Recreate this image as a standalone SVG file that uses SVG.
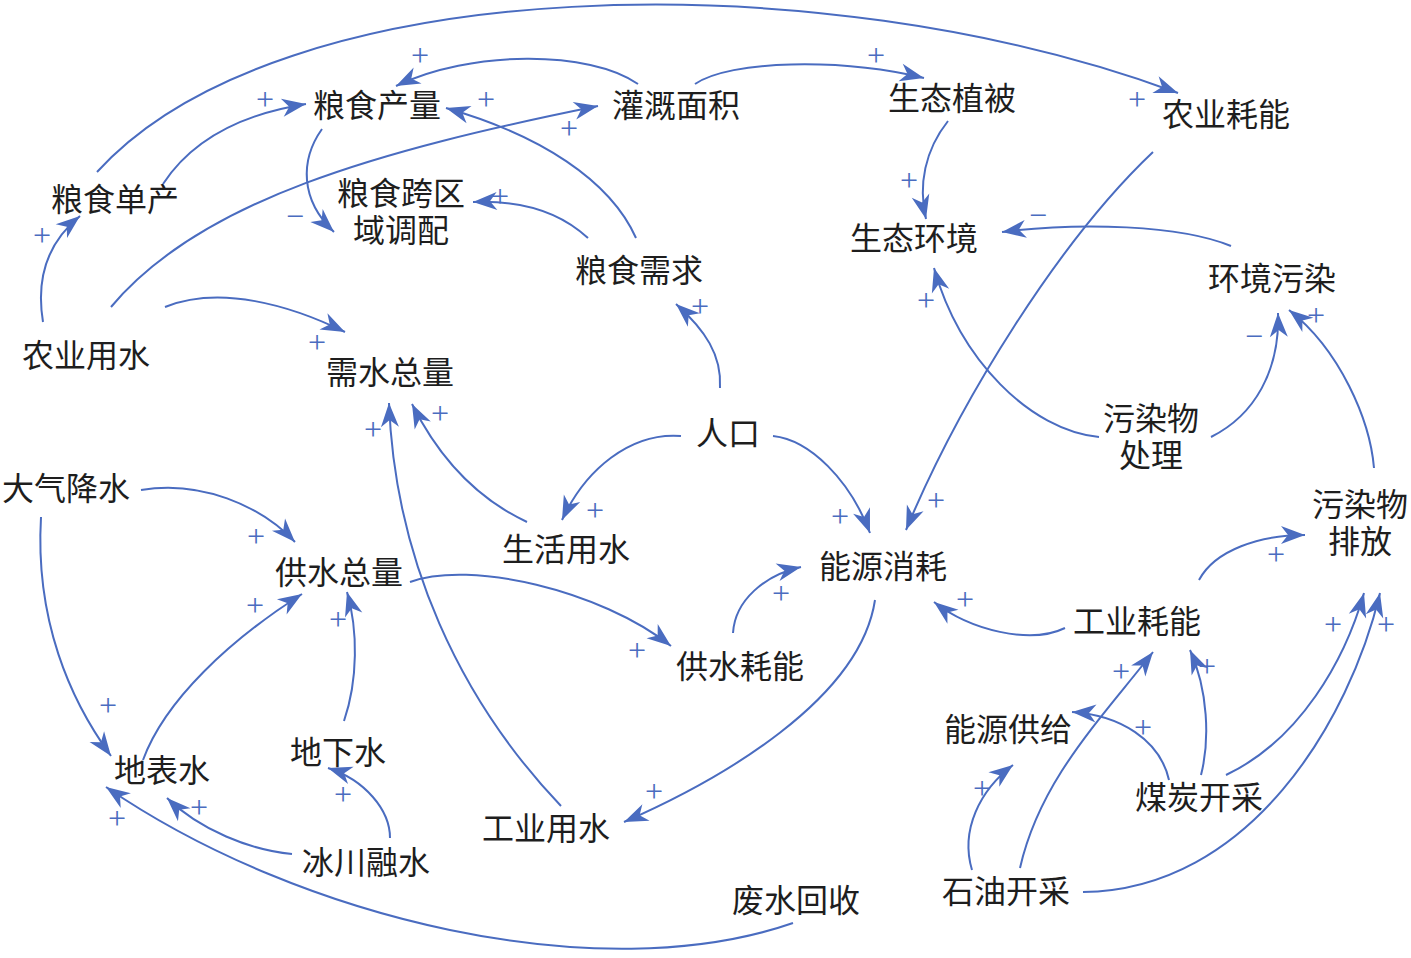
<svg xmlns="http://www.w3.org/2000/svg" width="1411" height="958" viewBox="0 0 1411 958">
<defs>
<marker id="ah" markerUnits="userSpaceOnUse" viewBox="-25 -10 27 20" refX="0" refY="0" markerWidth="27" markerHeight="20" orient="auto">
<path d="M0,0 L-24,-9 L-17,0 L-24,9 Z" fill="#4a6cc0"/>
</marker>
<style>
.n{font-family:"Liberation Serif","Noto Sans CJK SC",serif;font-size:32px;fill:#1e1e1e;text-anchor:middle}
.s{font-family:"Liberation Serif",serif;font-size:32px;fill:#4a6cc0;text-anchor:middle}
.e path{fill:none;stroke:#4a6cc0;stroke-width:2;marker-end:url(#ah)}
</style>
</defs>
<rect width="1411" height="958" fill="#ffffff"/>
<g id="connectors" class="e">
<path d="M97,172 C280,-30 820,-40 1178,93"/>
<path d="M163,184 Q205,120 306,104"/>
<path d="M43,322 Q32,255 80,216"/>
<path d="M111,307 C200,200 380,150 598,106"/>
<path d="M165,307 C220,285 290,305 345,332"/>
<path d="M638,84 C590,50 470,50 396,86"/>
<path d="M695,84 C730,60 840,58 924,78"/>
<path d="M636,238 C610,180 540,135 446,108"/>
<path d="M322,129 C300,160 300,200 334,232"/>
<path d="M588,238 C560,212 520,200 473,202"/>
<path d="M720,388 C722,355 705,330 676,304"/>
<path d="M948,121 C925,150 918,185 926,219"/>
<path d="M1231,246 C1180,225 1080,222 1002,232"/>
<path d="M1153,152 C1060,240 960,400 906,530"/>
<path d="M1099,437 C1030,430 960,360 934,268"/>
<path d="M1211,437 C1255,415 1280,370 1278,313"/>
<path d="M1374,468 C1370,420 1340,350 1289,310"/>
<path d="M681,436 C630,432 585,470 562,520"/>
<path d="M773,436 C810,440 850,480 870,533"/>
<path d="M527,522 C480,500 440,460 412,404"/>
<path d="M561,806 C460,700 395,560 389,403"/>
<path d="M141,490 C200,480 260,505 295,542"/>
<path d="M41,517 C35,620 70,700 111,756"/>
<path d="M143,760 C165,700 230,640 302,594"/>
<path d="M344,721 C358,680 358,630 347,592"/>
<path d="M390,838 C390,810 365,780 328,768"/>
<path d="M292,854 C250,850 200,830 167,798"/>
<path d="M793,923 C600,990 300,920 106,787"/>
<path d="M410,582 C470,560 600,590 671,646"/>
<path d="M875,600 C860,700 720,780 624,822"/>
<path d="M733,633 C735,600 765,575 801,567"/>
<path d="M1065,628 C1030,645 970,630 934,602"/>
<path d="M1199,580 C1215,550 1260,535 1305,535"/>
<path d="M1201,775 C1210,740 1208,690 1190,650"/>
<path d="M1169,780 C1160,740 1120,715 1072,712"/>
<path d="M1226,775 C1300,740 1345,660 1364,593"/>
<path d="M972,870 C960,830 980,790 1013,765"/>
<path d="M1020,868 C1040,780 1100,720 1153,652"/>
<path d="M1083,892 C1250,890 1350,720 1380,593"/>
</g>
<g id="signs">
<text class="s" x="1137" y="110">+</text>
<text class="s" x="265" y="110">+</text>
<text class="s" x="42" y="246">+</text>
<text class="s" x="569" y="139">+</text>
<text class="s" x="317" y="353">+</text>
<text class="s" x="420" y="66">+</text>
<text class="s" x="876" y="66">+</text>
<text class="s" x="486" y="110">+</text>
<text class="s" x="295" y="227">−</text>
<text class="s" x="500" y="207">+</text>
<text class="s" x="700" y="317">+</text>
<text class="s" x="909" y="191">+</text>
<text class="s" x="1038" y="226">−</text>
<text class="s" x="936" y="511">+</text>
<text class="s" x="926" y="311">+</text>
<text class="s" x="1254" y="347">−</text>
<text class="s" x="1316" y="326">+</text>
<text class="s" x="595" y="521">+</text>
<text class="s" x="840" y="527">+</text>
<text class="s" x="440" y="424">+</text>
<text class="s" x="373" y="440">+</text>
<text class="s" x="256" y="547">+</text>
<text class="s" x="108" y="716">+</text>
<text class="s" x="255" y="616">+</text>
<text class="s" x="338" y="630">+</text>
<text class="s" x="343" y="805">+</text>
<text class="s" x="199" y="818">+</text>
<text class="s" x="117" y="829">+</text>
<text class="s" x="637" y="661">+</text>
<text class="s" x="654" y="802">+</text>
<text class="s" x="781" y="604">+</text>
<text class="s" x="965" y="610">+</text>
<text class="s" x="1276" y="565">+</text>
<text class="s" x="1207" y="677">+</text>
<text class="s" x="1143" y="738">+</text>
<text class="s" x="1333" y="635">+</text>
<text class="s" x="982" y="799">+</text>
<text class="s" x="1121" y="682">+</text>
<text class="s" x="1386" y="635">+</text>
</g>
<g id="n-liangshichanliang"><text class="n" x="377" y="117">粮食产量</text></g>
<g id="n-guangaimianji"><text class="n" x="676" y="117">灌溉面积</text></g>
<g id="n-shengtaizhibei"><text class="n" x="952" y="110">生态植被</text></g>
<g id="n-nongyehaoneng"><text class="n" x="1226" y="126">农业耗能</text></g>
<g id="n-liangshidanchan"><text class="n" x="115" y="211">粮食单产</text></g>
<g id="n-liangshikuaquyu"><text class="n" x="401" y="205">粮食跨区</text><text class="n" x="401" y="242">域调配</text></g>
<g id="n-shengtaihuanjing"><text class="n" x="914" y="250">生态环境</text></g>
<g id="n-liangshixuqiu"><text class="n" x="639" y="282">粮食需求</text></g>
<g id="n-huanjingwuran"><text class="n" x="1272" y="290">环境污染</text></g>
<g id="n-nongyeyongshui"><text class="n" x="86" y="367">农业用水</text></g>
<g id="n-xushuizongliang"><text class="n" x="390" y="384">需水总量</text></g>
<g id="n-renkou"><text class="n" x="728" y="445">人口</text></g>
<g id="n-wuranwuchuli"><text class="n" x="1151" y="430">污染物</text><text class="n" x="1151" y="467">处理</text></g>
<g id="n-daqijiangshui"><text class="n" x="66" y="500">大气降水</text></g>
<g id="n-wuranwupaifang"><text class="n" x="1360" y="516">污染物</text><text class="n" x="1360" y="553">排放</text></g>
<g id="n-shenghuoyongshui"><text class="n" x="566" y="561">生活用水</text></g>
<g id="n-nengyuanxiaohao"><text class="n" x="883" y="578">能源消耗</text></g>
<g id="n-gongshuizongliang"><text class="n" x="339" y="584">供水总量</text></g>
<g id="n-gongyehaoneng"><text class="n" x="1137" y="633">工业耗能</text></g>
<g id="n-gongshuihaoneng"><text class="n" x="740" y="678">供水耗能</text></g>
<g id="n-nengyuangongji"><text class="n" x="1008" y="741">能源供给</text></g>
<g id="n-dibiaoshui"><text class="n" x="162" y="782">地表水</text></g>
<g id="n-dixiashui"><text class="n" x="338" y="764">地下水</text></g>
<g id="n-meitankaicai"><text class="n" x="1199" y="809">煤炭开采</text></g>
<g id="n-gongyeyongshui"><text class="n" x="546" y="840">工业用水</text></g>
<g id="n-bingchuanrongshui"><text class="n" x="366" y="874">冰川融水</text></g>
<g id="n-shiyoukaicai"><text class="n" x="1006" y="903">石油开采</text></g>
<g id="n-feishuihuishou"><text class="n" x="796" y="912">废水回收</text></g>
</svg>
